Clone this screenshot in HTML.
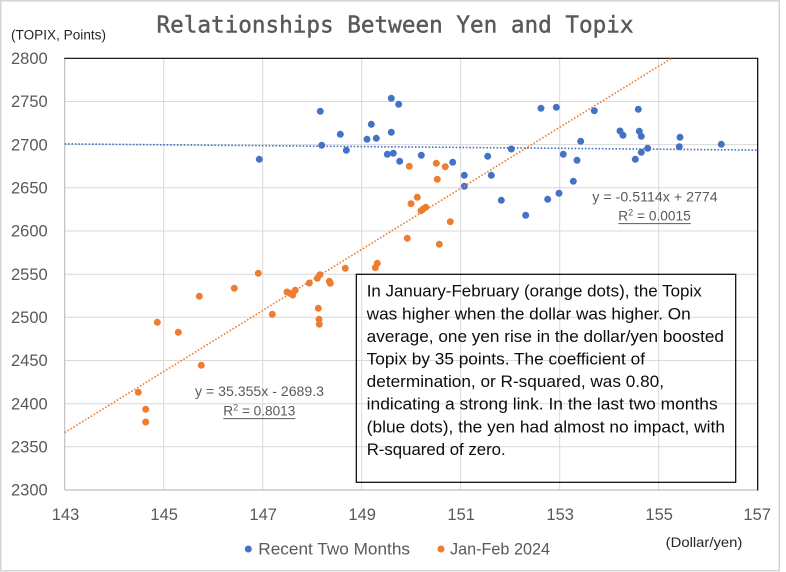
<!DOCTYPE html>
<html><head><meta charset="utf-8"><style>
html,body{margin:0;padding:0;background:#fff;}
svg{display:block;}
text{font-family:"Liberation Sans",Arial,sans-serif;}
</style></head><body>
<svg width="786" height="572" viewBox="0 0 786 572" xmlns="http://www.w3.org/2000/svg">
<rect x="0" y="0" width="786" height="572" fill="#fff"/>
<rect x="0.75" y="0.75" width="778.5" height="570" fill="none" stroke="#D4D4D4" stroke-width="1.5"/>

<!-- title -->
<text x="395" y="32.7" text-anchor="middle" font-family="'DejaVu Sans Mono','Liberation Mono',monospace" style="font-family:'DejaVu Sans Mono','Liberation Mono',monospace" font-size="23.5" fill="#595959" stroke="#595959" stroke-width="0.45" textLength="477" lengthAdjust="spacingAndGlyphs">Relationships Between Yen and Topix</text>

<text x="11" y="39.5" font-size="13.5" fill="#262626" textLength="95" lengthAdjust="spacingAndGlyphs">(TOPIX, Points)</text>

<!-- gridlines -->
<g stroke="#D9D9D9" stroke-width="1">
<line x1="64.7" y1="101.5" x2="757.7" y2="101.5"/>
<line x1="64.7" y1="144.6" x2="757.7" y2="144.6"/>
<line x1="64.7" y1="187.8" x2="757.7" y2="187.8"/>
<line x1="64.7" y1="231" x2="757.7" y2="231"/>
<line x1="64.7" y1="274.2" x2="757.7" y2="274.2"/>
<line x1="64.7" y1="317.3" x2="757.7" y2="317.3"/>
<line x1="64.7" y1="360.5" x2="757.7" y2="360.5"/>
<line x1="64.7" y1="403.7" x2="757.7" y2="403.7"/>
<line x1="64.7" y1="446.8" x2="757.7" y2="446.8"/>
<line x1="163.7" y1="58.3" x2="163.7" y2="490"/>
<line x1="262.7" y1="58.3" x2="262.7" y2="490"/>
<line x1="361.7" y1="58.3" x2="361.7" y2="490"/>
<line x1="460.7" y1="58.3" x2="460.7" y2="490"/>
<line x1="559.7" y1="58.3" x2="559.7" y2="490"/>
<line x1="658.7" y1="58.3" x2="658.7" y2="490"/>
</g>
<line x1="64.7" y1="58.3" x2="64.7" y2="490" stroke="#BFBFBF" stroke-width="1.2"/>
<line x1="64.7" y1="490" x2="757.7" y2="490" stroke="#BFBFBF" stroke-width="1.2"/>
<line x1="64.2" y1="58.3" x2="758.2" y2="58.3" stroke="#000" stroke-width="1.2"/>
<line x1="757.7" y1="58.3" x2="757.7" y2="490.5" stroke="#000" stroke-width="1.2"/>

<!-- y tick labels -->
<g font-size="16.5" fill="#595959" text-anchor="end">
<text x="47.7" y="64">2800</text>
<text x="47.7" y="107.2">2750</text>
<text x="47.7" y="150.3">2700</text>
<text x="47.7" y="193.5">2650</text>
<text x="47.7" y="236.7">2600</text>
<text x="47.7" y="279.9">2550</text>
<text x="47.7" y="323">2500</text>
<text x="47.7" y="366.2">2450</text>
<text x="47.7" y="409.4">2400</text>
<text x="47.7" y="452.5">2350</text>
<text x="47.7" y="495.7">2300</text>
</g>
<!-- x tick labels -->
<g font-size="16.5" fill="#595959" text-anchor="middle">
<text x="65.5" y="520">143</text>
<text x="164.2" y="520">145</text>
<text x="263.2" y="520">147</text>
<text x="362.2" y="520">149</text>
<text x="461.2" y="520">151</text>
<text x="560.2" y="520">153</text>
<text x="659.2" y="520">155</text>
<text x="757.2" y="520">157</text>
</g>

<!-- blue points -->
<g fill="#4472C4">
<circle cx="259.3" cy="159.3" r="3.5"/>
<circle cx="320.3" cy="111.3" r="3.5"/>
<circle cx="321.7" cy="145.3" r="3.5"/>
<circle cx="340.3" cy="134.3" r="3.5"/>
<circle cx="346.3" cy="150.3" r="3.5"/>
<circle cx="367" cy="139.3" r="3.5"/>
<circle cx="371.3" cy="124.3" r="3.5"/>
<circle cx="376.3" cy="138.3" r="3.5"/>
<circle cx="391.3" cy="98.3" r="3.5"/>
<circle cx="398.7" cy="104.3" r="3.5"/>
<circle cx="391.3" cy="132.3" r="3.5"/>
<circle cx="387.3" cy="154.3" r="3.5"/>
<circle cx="393.3" cy="153.3" r="3.5"/>
<circle cx="399.7" cy="161.3" r="3.5"/>
<circle cx="421.3" cy="155.3" r="3.5"/>
<circle cx="452.7" cy="162.3" r="3.5"/>
<circle cx="464.3" cy="175.3" r="3.5"/>
<circle cx="464.3" cy="186.3" r="3.5"/>
<circle cx="487.7" cy="156.3" r="3.5"/>
<circle cx="491.3" cy="175.3" r="3.5"/>
<circle cx="501.3" cy="200.3" r="3.5"/>
<circle cx="511.3" cy="149" r="3.5"/>
<circle cx="525.7" cy="215.3" r="3.5"/>
<circle cx="541" cy="108.3" r="3.5"/>
<circle cx="547.7" cy="199.3" r="3.5"/>
<circle cx="556.3" cy="107.3" r="3.5"/>
<circle cx="559" cy="193.3" r="3.5"/>
<circle cx="563.3" cy="154.3" r="3.5"/>
<circle cx="573.3" cy="181.3" r="3.5"/>
<circle cx="577" cy="160.3" r="3.5"/>
<circle cx="580.7" cy="141.3" r="3.5"/>
<circle cx="594.3" cy="110.7" r="3.5"/>
<circle cx="620" cy="131" r="3.5"/>
<circle cx="623" cy="135.3" r="3.5"/>
<circle cx="635.3" cy="159.3" r="3.5"/>
<circle cx="638.3" cy="109.3" r="3.5"/>
<circle cx="639.3" cy="131.3" r="3.5"/>
<circle cx="641.3" cy="136.3" r="3.5"/>
<circle cx="641.3" cy="152.3" r="3.5"/>
<circle cx="647.7" cy="148.3" r="3.5"/>
<circle cx="680" cy="137.3" r="3.5"/>
<circle cx="679.3" cy="146.7" r="3.5"/>
<circle cx="721.3" cy="144.3" r="3.5"/>
</g>
<!-- orange points -->
<g fill="#ED7D31">
<circle cx="138.3" cy="392.3" r="3.5"/>
<circle cx="145.7" cy="409.3" r="3.5"/>
<circle cx="145.7" cy="422" r="3.5"/>
<circle cx="157.3" cy="322.3" r="3.5"/>
<circle cx="178.3" cy="332.3" r="3.5"/>
<circle cx="199.3" cy="296.3" r="3.5"/>
<circle cx="201.3" cy="365.3" r="3.5"/>
<circle cx="234.3" cy="288.3" r="3.5"/>
<circle cx="258.3" cy="273.3" r="3.5"/>
<circle cx="272.3" cy="314.3" r="3.5"/>
<circle cx="287" cy="292" r="3.5"/>
<circle cx="290" cy="293.3" r="3.5"/>
<circle cx="292.7" cy="295" r="3.5"/>
<circle cx="295.3" cy="290.3" r="3.5"/>
<circle cx="309.3" cy="283" r="3.5"/>
<circle cx="317.3" cy="278.3" r="3.5"/>
<circle cx="320" cy="274.7" r="3.5"/>
<circle cx="329.3" cy="281.3" r="3.5"/>
<circle cx="330.3" cy="283.3" r="3.5"/>
<circle cx="318.3" cy="308.3" r="3.5"/>
<circle cx="319" cy="319.3" r="3.5"/>
<circle cx="319.3" cy="324.3" r="3.5"/>
<circle cx="345.3" cy="268.3" r="3.5"/>
<circle cx="377.3" cy="263.3" r="3.5"/>
<circle cx="375.3" cy="267.7" r="3.5"/>
<circle cx="407.3" cy="238.3" r="3.5"/>
<circle cx="411" cy="203.7" r="3.5"/>
<circle cx="417.3" cy="197.3" r="3.5"/>
<circle cx="421" cy="210.7" r="3.5"/>
<circle cx="423.3" cy="209" r="3.5"/>
<circle cx="425.7" cy="207.3" r="3.5"/>
<circle cx="409.3" cy="166.3" r="3.5"/>
<circle cx="436.3" cy="163.3" r="3.5"/>
<circle cx="445.3" cy="166.7" r="3.5"/>
<circle cx="437.3" cy="179.3" r="3.5"/>
<circle cx="450.3" cy="221.7" r="3.5"/>
<circle cx="439.3" cy="244.3" r="3.5"/>
</g>

<!-- trend lines -->
<line x1="64.7" y1="432.6" x2="671.6" y2="58.3" stroke="#ED7D31" stroke-width="1.6" stroke-dasharray="1.6 1.8"/>
<line x1="64.7" y1="143.9" x2="757.7" y2="150.1" stroke="#4472C4" stroke-width="1.6" stroke-dasharray="1.6 1.8"/>

<!-- trend labels -->
<g font-size="13.5" fill="#595959">
<text x="195" y="396" textLength="129" lengthAdjust="spacingAndGlyphs">y = 35.355x - 2689.3</text>
<text x="223.3" y="415.7" textLength="72" lengthAdjust="spacingAndGlyphs">R<tspan font-size="9" dy="-5">2</tspan><tspan dy="5"> = 0.8013</tspan></text>
<text x="592.3" y="201.7" textLength="125.4" lengthAdjust="spacingAndGlyphs">y = -0.5114x + 2774</text>
<text x="618.3" y="220.7" textLength="72.4" lengthAdjust="spacingAndGlyphs">R<tspan font-size="9" dy="-5">2</tspan><tspan dy="5"> = 0.0015</tspan></text>
</g>
<line x1="223.3" y1="418.6" x2="295.3" y2="418.6" stroke="#595959" stroke-width="1"/>
<line x1="618.3" y1="223.6" x2="690.7" y2="223.6" stroke="#595959" stroke-width="1"/>

<!-- text box -->
<rect x="356.3" y="274.3" width="379.4" height="208" fill="none" stroke="#000" stroke-width="1.2"/>
<g font-size="17" fill="#0D0D0D">
<text x="366.7" y="296.7" textLength="335" lengthAdjust="spacingAndGlyphs">In January-February (orange dots), the Topix</text>
<text x="366.7" y="319.3" textLength="324" lengthAdjust="spacingAndGlyphs">was higher when the dollar was higher. On</text>
<text x="366.7" y="341.9" textLength="357.3" lengthAdjust="spacingAndGlyphs">average, one yen rise in the dollar/yen boosted</text>
<text x="366.7" y="364.5" textLength="278.3" lengthAdjust="spacingAndGlyphs">Topix by 35 points. The coefficient of</text>
<text x="366.7" y="387.1" textLength="297.3" lengthAdjust="spacingAndGlyphs">determination, or R-squared, was 0.80,</text>
<text x="366.7" y="409.7" textLength="351" lengthAdjust="spacingAndGlyphs">indicating a strong link. In the last two months</text>
<text x="366.7" y="432.3" textLength="358.3" lengthAdjust="spacingAndGlyphs">(blue dots), the yen had almost no impact, with</text>
<text x="366.7" y="454.9" textLength="139" lengthAdjust="spacingAndGlyphs">R-squared of zero.</text>
</g>

<!-- legend -->
<circle cx="248.3" cy="549" r="3.5" fill="#4472C4"/>
<text x="258.3" y="554.5" font-size="16.5" fill="#595959" textLength="151.7" lengthAdjust="spacingAndGlyphs">Recent Two Months</text>
<circle cx="441" cy="549" r="3.5" fill="#ED7D31"/>
<text x="450" y="554.5" font-size="16.5" fill="#595959" textLength="100" lengthAdjust="spacingAndGlyphs">Jan-Feb 2024</text>

<text x="665.7" y="547" font-size="14" fill="#262626" textLength="76.6" lengthAdjust="spacingAndGlyphs">(Dollar/yen)</text>
</svg>
</body></html>
